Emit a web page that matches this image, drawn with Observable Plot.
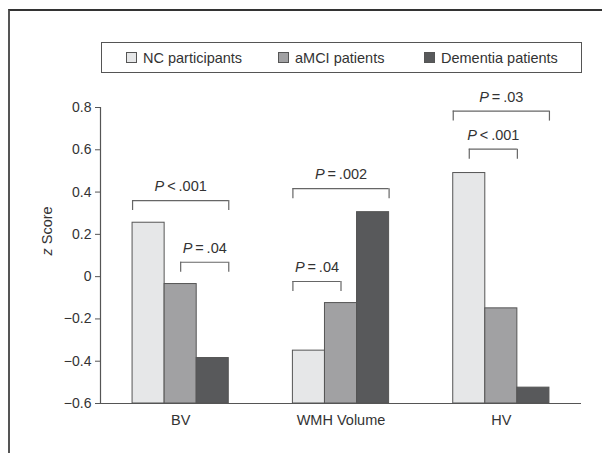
<!DOCTYPE html>
<html>
<head>
<meta charset="utf-8">
<script src="https://cdn.jsdelivr.net/npm/d3@7"></script>
<script src="https://cdn.jsdelivr.net/npm/@observablehq/plot@0.6"></script>
<style>
  html, body { margin: 0; padding: 0; background: #fff; }
  #wrap { position: relative; width: 602px; height: 453px; overflow: hidden;
          font-family: "Liberation Sans", Arial, sans-serif; color: #333; }
  #frame { position: absolute; left: 8px; top: 9px; width: 620px; height: 460px;
           border-left: 2px solid #555; border-top: 2px solid #333; box-sizing: border-box; }
  #chart { position: absolute; left: 0; top: 0; }
  #legend { position: absolute; left: 101px; top: 42px; width: 481px; height: 31px;
            border: 1px solid #555; box-sizing: border-box; background: #fff; }
  .item { position: absolute; top: 0; height: 29px; display: flex; align-items: center;
          font-size: 14.5px; color: #333; white-space: nowrap; }
  .sw { width: 9px; height: 9px; border: 1px solid #555; margin-right: 6px; }
</style>
</head>
<body>
<div id="wrap">
  <div id="frame"></div>
  <div id="chart"></div>
  <div id="legend"></div>
</div>
<script>
// ---- data ----
const groups = ["BV", "WMH Volume", "HV"];
const seriesNames = ["NC participants", "aMCI patients", "Dementia patients"];
const ncValues = [0.255, -0.35, 0.49];
const amciValues = [-0.035, -0.125, -0.15];
const dementiaValues = [-0.385, 0.305, -0.525];
const yTicks = [-0.6, -0.4, -0.2, 0, 0.2, 0.4, 0.6, 0.8];
const seriesColors = ["#e6e7e8", "#a1a1a3", "#58595b"];

// significance brackets: group, start/end slot (1..4 within group), level, label
const pLabels = ["P<.001", "P=.04", "P=.04", "P=.002", "P<.001", "P=.03"];
const pGroup = [0, 0, 1, 1, 2, 2];
const pFrom = [1, 2.5, 1, 1, 1.5, 1];
const pTo = [4, 4, 2.5, 4, 3, 4];
const pLevel = [0.36, 0.068, -0.023, 0.416, 0.603, 0.783];

// ---- build tables ----
const seriesValues = [ncValues, amciValues, dementiaValues];
const slotsPerGroup = 5;
const bars = [];
groups.forEach((g, gi) => {
  seriesNames.forEach((s, si) => {
    bars.push({ group: g, series: s, gi, si, value: seriesValues[si][gi] });
  });
});
const brackets = pLabels.map((label, i) => ({
  label: label.replace("<", "\u2009<\u2009").replace("=", "\u2009=\u2009"),
  x1: pGroup[i] * slotsPerGroup + pFrom[i],
  x2: pGroup[i] * slotsPerGroup + pTo[i],
  y: pLevel[i]
}));
const yMin = yTicks[0], yMax = yTicks[yTicks.length - 1];
const groupCenters = groups.map((g, gi) => gi * slotsPerGroup + 2.5);
const FONT = "'Liberation Sans', Arial, sans-serif";
const fmtY = d => d === 0 ? "0" : d.toFixed(1).replace("-", "\u2212");

const chart = Plot.plot({
  width: 602,
  height: 453,
  marginLeft: 100,
  marginRight: 21,
  marginTop: 107,
  marginBottom: 50,
  style: { background: "transparent", fontFamily: FONT, fontSize: "14px", color: "#333" },
  x: { domain: [0, groups.length * slotsPerGroup] },
  y: { domain: [yMin, yMax] },
  color: { domain: seriesNames, range: seriesColors },
  marks: [
    Plot.rect(bars, {
      x1: d => d.gi * slotsPerGroup + d.si + 1,
      x2: d => d.gi * slotsPerGroup + d.si + 2,
      y1: yMin,
      y2: "value",
      fill: "series",
      stroke: "#555",
      strokeWidth: 1
    }),
    Plot.ruleY([yMin], { stroke: "#555", strokeWidth: 1.2 }),
    Plot.ruleX([0], { y1: yMin, y2: yMax, stroke: "#555", strokeWidth: 1.2 }),
    Plot.axisY({ ticks: yTicks, tickSize: 5, tickPadding: 4, label: null, fontSize: 14,
      tickFormat: fmtY, stroke: "#555", fill: "#333" }),
    Plot.axisX({ ticks: groupCenters, tickSize: 0, tickPadding: 11, label: null, fontSize: 14.5,
      tickFormat: d => groups[Math.round((d - 2.5) / slotsPerGroup)], fill: "#333" }),
    Plot.text(["z Score"], { frameAnchor: "left", dx: -53, rotate: -90, fontSize: 14.5, fill: "#333" }),
    // brackets
    Plot.ruleY(brackets, { x1: "x1", x2: "x2", y: "y", stroke: "#666", strokeWidth: 1.2 }),
    Plot.ruleX(brackets, { x: "x1", y1: "y", y2: "y", insetBottom: -10, stroke: "#666", strokeWidth: 1.2 }),
    Plot.ruleX(brackets, { x: "x2", y1: "y", y2: "y", insetBottom: -10, stroke: "#666", strokeWidth: 1.2 }),
    Plot.text(brackets, { x: d => (d.x1 + d.x2) / 2, y: "y", text: "label", dy: -14, fontSize: 14.5, fill: "#333" })
  ]
});
document.getElementById("chart").appendChild(chart);

// text styling fixes: italic P and z, axis font sizes
const yLabelSet = new Set(yTicks.map(fmtY));
d3.select(chart).selectAll("text").each(function () {
  const t = this.textContent;
  const sel = d3.select(this);
  if (yLabelSet.has(t)) sel.style("font-size", "14px");
  else if (groups.includes(t)) sel.style("font-size", "14.5px");
  if (t === "z Score" || /^P\u2009/.test(t)) {
    sel.text(null);
    sel.append("tspan").attr("font-style", "italic").text(t[0]);
    sel.append("tspan").text(t.slice(1));
  }
});

// legend
const legendLeft = [24, 176, 322];
const legend = document.getElementById("legend");
seriesNames.forEach((s, i) => {
  const item = document.createElement("div");
  item.className = "item";
  item.style.left = legendLeft[i] + "px";
  const sw = document.createElement("div");
  sw.className = "sw";
  sw.style.background = seriesColors[i];
  item.appendChild(sw);
  item.appendChild(document.createTextNode(s));
  legend.appendChild(item);
});
</script>
</body>
</html>
